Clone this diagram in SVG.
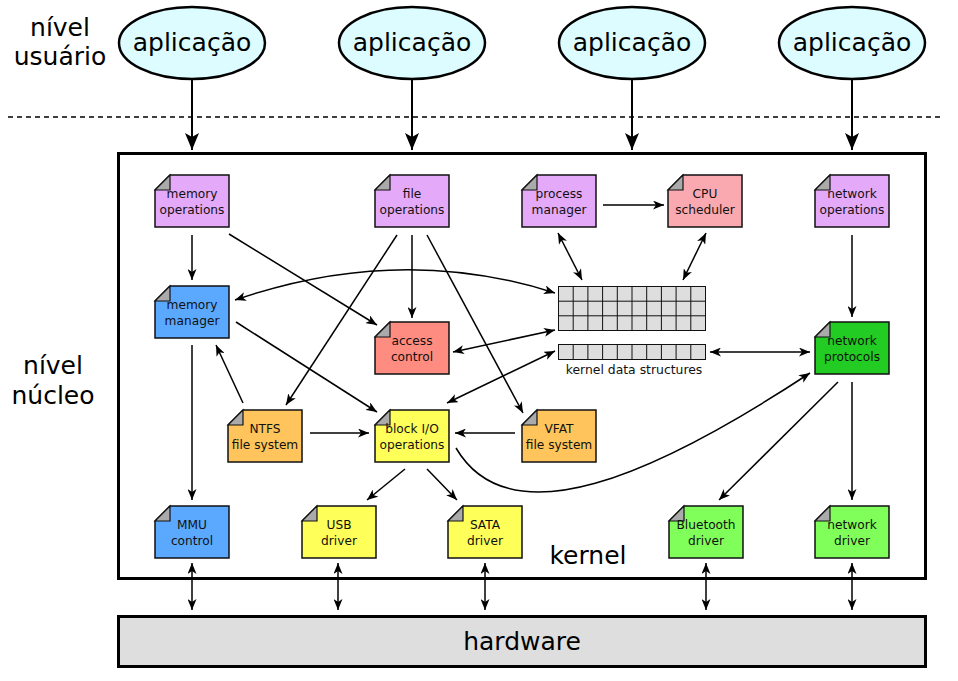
<svg xmlns="http://www.w3.org/2000/svg" width="958" height="681" viewBox="0 0 958 681">
<style>
.lbl{font-family:"DejaVu Sans","Liberation Sans",sans-serif;font-size:12.2px;fill:#111;text-anchor:middle}
.big{font-family:"DejaVu Sans","Liberation Sans",sans-serif;font-size:25px;fill:#000;text-anchor:middle}
.box{stroke:#111;stroke-width:1.5}
.fold{fill:#aaa;stroke:#111;stroke-width:1.2}
.c{fill:none;stroke:#000;stroke-width:1.5}
.t{fill:none;stroke:#000;stroke-width:2}
.cell{fill:#dedede;stroke:#111;stroke-width:1}
.ell{fill:#dcfcff;stroke:#000;stroke-width:2.5}
.p{fill:#e5a9f9}.pk{fill:#faa9b0}.b{fill:#5aa9ff}.s{fill:#ff8c80}.g{fill:#22cc22}.o{fill:#ffc55c}.y{fill:#ffff5a}.lg{fill:#80ff5a}
</style>
<defs>
<marker id="a" markerUnits="userSpaceOnUse" markerWidth="12" markerHeight="9" refX="11" refY="4.5" orient="auto-start-reverse" viewBox="0 0 12 9"><path d="M0,0 L11,4.5 L0,9 L3,4.5 z" fill="#000"/></marker>
<marker id="A" markerUnits="userSpaceOnUse" markerWidth="18" markerHeight="14" refX="17" refY="7" orient="auto" viewBox="0 0 18 14"><path d="M0,0 L17,7 L0,14 L4,7 z" fill="#000"/></marker>
<g id="note"><path d="M15,0 H74 V52 H0 V15 Z"/></g>
</defs>

<rect width="958" height="681" fill="#fff"/>

<!-- level labels -->
<text class="big" x="60" y="36">nível</text>
<text class="big" x="60" y="65">usuário</text>
<text class="big" x="53" y="374">nível</text>
<text class="big" x="53" y="404">núcleo</text>

<line x1="8" y1="117" x2="942" y2="117" stroke="#000" stroke-width="1.3" stroke-dasharray="5,4"/>

<!-- applications -->
<g id="app1"><ellipse class="ell" cx="192" cy="43" rx="73" ry="36"/><text class="big" x="192" y="51">aplicação</text></g>
<g id="app2"><ellipse class="ell" cx="412" cy="43" rx="73" ry="36"/><text class="big" x="412" y="51">aplicação</text></g>
<g id="app3"><ellipse class="ell" cx="632" cy="43" rx="73" ry="36"/><text class="big" x="632" y="51">aplicação</text></g>
<g id="app4"><ellipse class="ell" cx="852" cy="43" rx="73" ry="36"/><text class="big" x="852" y="51">aplicação</text></g>

<!-- kernel box -->
<g id="kernel"><rect x="118.5" y="153.5" width="807" height="425" fill="#fff" stroke="#000" stroke-width="3"/>
<text class="big" x="588" y="564">kernel</text></g>

<!-- hardware -->
<g id="hardware"><rect x="118.5" y="616.5" width="807" height="50" fill="#dedede" stroke="#000" stroke-width="3"/>
<text class="big" x="522" y="650">hardware</text></g>

<!-- nodes -->
<g id="memops" transform="translate(155,175)"><use href="#note" class="box p"/><path class="fold" d="M0,15 L15,0 V15 Z"/><text class="lbl" x="37" y="23">memory</text><text class="lbl" x="37" y="39">operations</text></g>
<g id="fileops" transform="translate(375,175)"><use href="#note" class="box p"/><path class="fold" d="M0,15 L15,0 V15 Z"/><text class="lbl" x="37" y="23">file</text><text class="lbl" x="37" y="39">operations</text></g>
<g id="procmgr" transform="translate(522,175)"><use href="#note" class="box p"/><path class="fold" d="M0,15 L15,0 V15 Z"/><text class="lbl" x="37" y="23">process</text><text class="lbl" x="37" y="39">manager</text></g>
<g id="cpusched" transform="translate(668,175)"><use href="#note" class="box pk"/><path class="fold" d="M0,15 L15,0 V15 Z"/><text class="lbl" x="37" y="23">CPU</text><text class="lbl" x="37" y="39">scheduler</text></g>
<g id="netops" transform="translate(815,175)"><use href="#note" class="box p"/><path class="fold" d="M0,15 L15,0 V15 Z"/><text class="lbl" x="37" y="23">network</text><text class="lbl" x="37" y="39">operations</text></g>
<g id="memmgr" transform="translate(155,286)"><use href="#note" class="box b"/><path class="fold" d="M0,15 L15,0 V15 Z"/><text class="lbl" x="37" y="23">memory</text><text class="lbl" x="37" y="39">manager</text></g>
<g id="access" transform="translate(375,322)"><use href="#note" class="box s"/><path class="fold" d="M0,15 L15,0 V15 Z"/><text class="lbl" x="37" y="23">access</text><text class="lbl" x="37" y="39">control</text></g>
<g id="netproto" transform="translate(815,322)"><use href="#note" class="box g"/><path class="fold" d="M0,15 L15,0 V15 Z"/><text class="lbl" x="37" y="23">network</text><text class="lbl" x="37" y="39">protocols</text></g>
<g id="ntfs" transform="translate(228,410)"><use href="#note" class="box o"/><path class="fold" d="M0,15 L15,0 V15 Z"/><text class="lbl" x="37" y="23">NTFS</text><text class="lbl" x="37" y="39">file system</text></g>
<g id="blockio" transform="translate(375,410)"><use href="#note" class="box y"/><path class="fold" d="M0,15 L15,0 V15 Z"/><text class="lbl" x="37" y="23">block I/O</text><text class="lbl" x="37" y="39">operations</text></g>
<g id="vfat" transform="translate(522,410)"><use href="#note" class="box o"/><path class="fold" d="M0,15 L15,0 V15 Z"/><text class="lbl" x="37" y="23">VFAT</text><text class="lbl" x="37" y="39">file system</text></g>
<g id="mmu" transform="translate(155,506)"><use href="#note" class="box b"/><path class="fold" d="M0,15 L15,0 V15 Z"/><text class="lbl" x="37" y="23">MMU</text><text class="lbl" x="37" y="39">control</text></g>
<g id="usb" transform="translate(302,506)"><use href="#note" class="box y"/><path class="fold" d="M0,15 L15,0 V15 Z"/><text class="lbl" x="37" y="23">USB</text><text class="lbl" x="37" y="39">driver</text></g>
<g id="sata" transform="translate(448,506)"><use href="#note" class="box y"/><path class="fold" d="M0,15 L15,0 V15 Z"/><text class="lbl" x="37" y="23">SATA</text><text class="lbl" x="37" y="39">driver</text></g>
<g id="bt" transform="translate(669,506)"><use href="#note" class="box lg"/><path class="fold" d="M0,15 L15,0 V15 Z"/><text class="lbl" x="37" y="23">Bluetooth</text><text class="lbl" x="37" y="39">driver</text></g>
<g id="netdrv" transform="translate(815,506)"><use href="#note" class="box lg"/><path class="fold" d="M0,15 L15,0 V15 Z"/><text class="lbl" x="37" y="23">network</text><text class="lbl" x="37" y="39">driver</text></g>

<!-- kernel data structures -->
<g id="kds">
<rect class="cell" x="558.5" y="286.5" width="147" height="44"/>
<path fill="none" stroke="#111" stroke-width="1" d="M573.2,286.5V330.5M587.9,286.5V330.5M602.6,286.5V330.5M617.3,286.5V330.5M632,286.5V330.5M646.7,286.5V330.5M661.4,286.5V330.5M676.1,286.5V330.5M690.8,286.5V330.5M558.5,301.2H705.5M558.5,315.8H705.5"/>
<rect class="cell" x="558.5" y="344.5" width="147" height="15"/>
<path fill="none" stroke="#111" stroke-width="1" d="M573.2,344.5V359.5M587.9,344.5V359.5M602.6,344.5V359.5M617.3,344.5V359.5M632,344.5V359.5M646.7,344.5V359.5M661.4,344.5V359.5M676.1,344.5V359.5M690.8,344.5V359.5"/>
<text class="lbl" x="634" y="374" style="font-size:12.4px">kernel data structures</text>
</g>

<!-- connectors -->
<g id="connectors">
<path class="t" marker-end="url(#A)" d="M192,80V150"/>
<path class="t" marker-end="url(#A)" d="M412,80V150"/>
<path class="t" marker-end="url(#A)" d="M632,80V150"/>
<path class="t" marker-end="url(#A)" d="M852,80V150"/>

<path class="c" marker-end="url(#a)" d="M192,235V280"/>
<path class="c" marker-end="url(#a)" d="M229,234L377,325"/>
<path class="c" marker-end="url(#a)" d="M412,235V318"/>
<path class="c" marker-end="url(#a)" d="M397,235L286,405"/>
<path class="c" marker-end="url(#a)" d="M427,235L523,413"/>
<path class="c" marker-start="url(#a)" marker-end="url(#a)" d="M235,300Q400,243 555,293"/>
<path class="c" marker-start="url(#a)" marker-end="url(#a)" d="M453,352L555,330"/>
<path class="c" marker-start="url(#a)" marker-end="url(#a)" d="M447,403L555,351"/>
<path class="c" marker-start="url(#a)" marker-end="url(#a)" d="M710,352H810"/>
<path class="c" marker-start="url(#a)" marker-end="url(#a)" d="M558,233L582,280"/>
<path class="c" marker-start="url(#a)" marker-end="url(#a)" d="M706,233L683,280"/>
<path class="c" marker-end="url(#a)" d="M603,205H664"/>
<path class="c" marker-end="url(#a)" d="M852,235V317"/>
<path class="c" marker-end="url(#a)" d="M192,345V500"/>
<path class="c" marker-end="url(#a)" d="M243,403L216,345"/>
<path class="c" marker-end="url(#a)" d="M236,322L377,412"/>
<path class="c" marker-end="url(#a)" d="M310,433H369"/>
<path class="c" marker-end="url(#a)" d="M515,433H455"/>
<path class="c" marker-end="url(#a)" d="M405,469L367,500"/>
<path class="c" marker-end="url(#a)" d="M427,469L457,500"/>
<path class="c" marker-end="url(#a)" d="M456,448C510,540 655,475 810,373"/>
<path class="c" marker-end="url(#a)" d="M838,382L719,500"/>
<path class="c" marker-end="url(#a)" d="M852,382V500"/>

<path class="c" stroke-width="1.3" marker-start="url(#a)" marker-end="url(#a)" d="M192,563V610"/>
<path class="c" stroke-width="1.3" marker-start="url(#a)" marker-end="url(#a)" d="M338,563V610"/>
<path class="c" stroke-width="1.3" marker-start="url(#a)" marker-end="url(#a)" d="M485,563V610"/>
<path class="c" stroke-width="1.3" marker-start="url(#a)" marker-end="url(#a)" d="M706,563V610"/>
<path class="c" stroke-width="1.3" marker-start="url(#a)" marker-end="url(#a)" d="M852,563V610"/>
</g>
</svg>
